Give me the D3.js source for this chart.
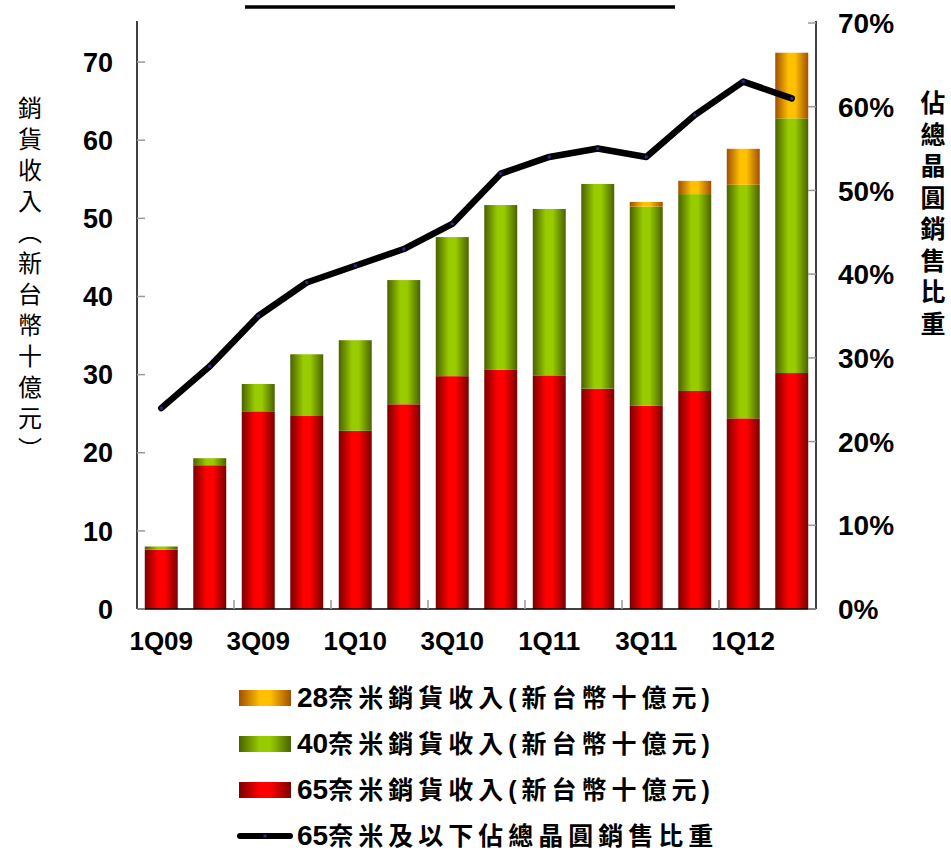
<!DOCTYPE html>
<html>
<head>
<meta charset="utf-8">
<script src="https://cdn.jsdelivr.net/npm/d3@7"></script>
<style>
  body { margin: 0; background: #fff; }
  text { font-family: "Liberation Sans", "Noto Sans CJK TC", sans-serif; font-weight: bold; fill: #000; }
  .vtitle { font-family: "Noto Sans CJK TC", sans-serif; writing-mode: vertical-rl; text-orientation: upright; }
</style>
</head>
<body>
<svg id="chart" width="951" height="851"></svg>
<script>
// data
let quarters = ["1Q09","2Q09","3Q09","4Q09","1Q10","2Q10","3Q10","4Q10","1Q11","2Q11","3Q11","4Q11","1Q12","2Q12"];
let tickQuarters = ["1Q09","3Q09","1Q10","3Q10","1Q11","3Q11","1Q12"];
let rev65 = [7.6, 18.4, 25.3, 24.7, 22.8, 26.2, 29.8, 30.6, 29.9, 28.2, 26.0, 27.9, 24.4, 30.2];
let rev40 = [0.4, 0.9, 3.5, 7.9, 11.6, 15.9, 17.8, 21.1, 21.3, 26.2, 25.5, 25.2, 29.9, 32.6];
let rev28 = [0, 0, 0, 0, 0, 0, 0, 0, 0, 0, 0.6, 1.7, 4.6, 8.4];
let share = [0.24, 0.29, 0.35, 0.39, 0.41, 0.43, 0.46, 0.52, 0.54, 0.55, 0.54, 0.59, 0.63, 0.61];
let leftTicks = [0, 10, 20, 30, 40, 50, 60, 70];
let rightTicks = [0, 0.1, 0.2, 0.3, 0.4, 0.5, 0.6, 0.7];
let leftTitle = "銷貨收入（新台幣十億元）";
let rightTitle = "佔總晶圓銷售比重";
let legendItems = [
  {num: "28", label: "奈米銷貨收入(新台幣十億元)", grad: "g28"},
  {num: "40", label: "奈米銷貨收入(新台幣十億元)", grad: "g40"},
  {num: "65", label: "奈米銷貨收入(新台幣十億元)", grad: "g65"},
  {num: "65", label: "奈米及以下佔總晶圓銷售比重", grad: null}
];

let svg = d3.select("#chart");
let plotLeft = 137, plotRight = 816, plotTop = 23, plotBottom = 609;

let x = d3.scaleBand().domain(quarters).range([plotLeft, plotRight]).paddingInner(0.32).paddingOuter(0.16);
let yL = d3.scaleLinear().domain([0, 75]).range([plotBottom, plotTop]);
let yR = d3.scaleLinear().domain([0, 0.7]).range([plotBottom, plotTop]);

// bar gradients, dark edges and bright middle
let defs = svg.append("defs");
let gradColors = {g65: ["#7a0000", "#ff0000"], g40: ["#4a6200", "#99cc00"], g28: ["#a05000", "#ffc000"]};
Object.keys(gradColors).forEach(function (id) {
  let g = defs.append("linearGradient").attr("id", id).attr("x1", "0%").attr("x2", "100%");
  g.append("stop").attr("offset", "0%").attr("stop-color", gradColors[id][0]);
  g.append("stop").attr("offset", "40%").attr("stop-color", gradColors[id][1]);
  g.append("stop").attr("offset", "60%").attr("stop-color", gradColors[id][1]);
  g.append("stop").attr("offset", "100%").attr("stop-color", gradColors[id][0]);
});

// title underline (title itself is cut off in the picture)
svg.append("line").attr("x1", 245).attr("x2", 675).attr("y1", 7).attr("y2", 7)
  .attr("stroke", "#000").attr("stroke-width", 3.5);

// stacked bars
let rows = quarters.map(function (q, i) { return {q: q, r65: rev65[i], r40: rev40[i], r28: rev28[i]}; });
let stack = d3.stack().keys(["r65", "r40", "r28"])(rows);
let gradFor = {r65: "g65", r40: "g40", r28: "g28"};

svg.append("g").selectAll("g")
  .data(stack)
  .enter()
  .append("g")
  .attr("fill", d => "url(#" + gradFor[d.key] + ")")
  .selectAll("rect")
  .data(d => d.filter(s => s[1] - s[0] > 0))
  .enter()
  .append("rect")
  .attr("x", d => x(d.data.q))
  .attr("width", x.bandwidth())
  .attr("y", d => yL(d[1]))
  .attr("height", d => yL(d[0]) - yL(d[1]));

// axes
let axisG = svg.append("g");
axisG.append("line").attr("x1", plotLeft).attr("x2", plotLeft).attr("y1", plotTop - 2).attr("y2", plotBottom)
  .attr("stroke", "#000").attr("stroke-width", 1.5);
axisG.append("line").attr("x1", plotRight).attr("x2", plotRight).attr("y1", plotTop - 2).attr("y2", plotBottom)
  .attr("stroke", "#000").attr("stroke-width", 1.5);
axisG.append("line").attr("x1", plotLeft).attr("x2", plotRight).attr("y1", plotBottom).attr("y2", plotBottom)
  .attr("stroke", "#000").attr("stroke-width", 1.5);

axisG.selectAll(".lt").data(leftTicks).enter().append("line")
  .attr("x1", plotLeft).attr("x2", plotLeft + 8).attr("y1", d => yL(d)).attr("y2", d => yL(d))
  .attr("stroke", "#999").attr("stroke-width", 1.5);
axisG.selectAll(".ll").data(leftTicks).enter().append("text")
  .attr("x", 113).attr("y", d => yL(d)).attr("dy", "0.36em")
  .attr("text-anchor", "end").style("font-size", "27px")
  .text(d => d);

axisG.selectAll(".rt").data(rightTicks).enter().append("line")
  .attr("x1", plotRight - 8).attr("x2", plotRight).attr("y1", d => yR(d)).attr("y2", d => yR(d))
  .attr("stroke", "#999").attr("stroke-width", 1.5);
axisG.selectAll(".rl").data(rightTicks).enter().append("text")
  .attr("x", 838).attr("y", d => yR(d)).attr("dy", "0.36em")
  .style("font-size", "28px")
  .text(d => d3.format(".0%")(d));

// x ticks every second category boundary
let step = x.step();
let boundary = k => plotLeft + x.paddingOuter() * step + k * step - x.paddingInner() * step / 2;
axisG.selectAll(".xt").data(d3.range(2, quarters.length, 2)).enter().append("line")
  .attr("x1", d => boundary(d)).attr("x2", d => boundary(d))
  .attr("y1", plotBottom - 9).attr("y2", plotBottom)
  .attr("stroke", "#999").attr("stroke-width", 1.5);
axisG.selectAll(".xl").data(tickQuarters).enter().append("text")
  .attr("x", d => x(d) + x.bandwidth() / 2).attr("y", 650)
  .attr("text-anchor", "middle").style("font-size", "26px")
  .text(d => d);

// axis titles, written top to bottom
svg.append("text").attr("class", "vtitle")
  .attr("x", 30).attr("y", 96)
  .style("font-size", "24px").style("font-weight", "normal").style("letter-spacing", "7px")
  .text(leftTitle);
svg.append("text").attr("class", "vtitle")
  .attr("x", 933).attr("y", 90)
  .style("font-size", "25px").style("letter-spacing", "6.5px")
  .text(rightTitle);

// share line
let line = d3.line().x((d, i) => x(quarters[i]) + x.bandwidth() / 2).y(d => yR(d));
svg.append("path").datum(share).attr("d", line)
  .attr("fill", "none").attr("stroke", "#000").attr("stroke-width", 6.5)
  .attr("stroke-linejoin", "round").attr("stroke-linecap", "round");
svg.append("g").selectAll("rect").data(share).enter().append("rect")
  .attr("x", (d, i) => x(quarters[i]) + x.bandwidth() / 2 - 1.5)
  .attr("y", d => yR(d) - 1.5)
  .attr("width", 3).attr("height", 3).attr("fill", "#2a2a8a");

// legend
let legend = svg.append("g");
legendItems.forEach(function (item, i) {
  let cy = 698 + i * 46;
  if (item.grad) {
    legend.append("rect").attr("x", 239).attr("y", cy - 8).attr("width", 52).attr("height", 16)
      .attr("fill", "url(#" + item.grad + ")");
  } else {
    legend.append("line").attr("x1", 240).attr("x2", 290).attr("y1", cy).attr("y2", cy)
      .attr("stroke", "#000").attr("stroke-width", 6).attr("stroke-linecap", "round");
    legend.append("rect").attr("x", 263.5).attr("y", cy - 1.5).attr("width", 3).attr("height", 3)
      .attr("fill", "#2a2a8a");
  }
  let t = legend.append("text").attr("x", 297).attr("y", cy + 9);
  t.append("tspan").style("font-size", "28px").text(item.num);
  t.append("tspan").style("font-size", "25px").style("letter-spacing", "5px").text(item.label);
});
</script>
</body>
</html>
